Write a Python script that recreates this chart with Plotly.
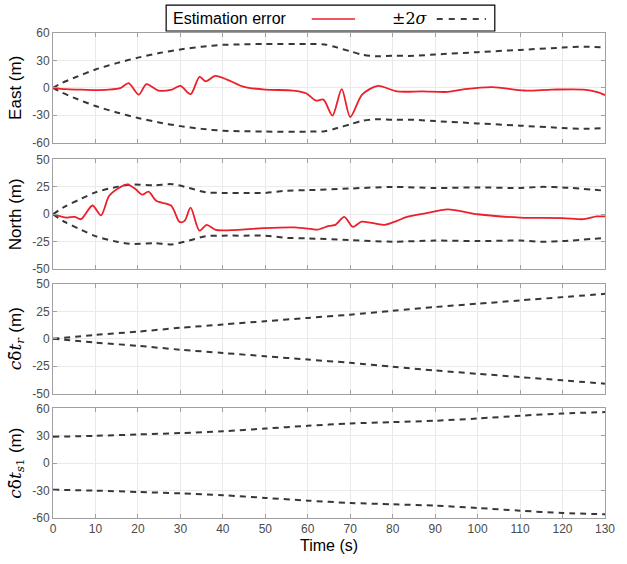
import plotly.graph_objects as go

# ---------------- data ----------------
# East position error (m)
t_east = [0, 3, 6, 10, 13, 16, 17.8, 20.2, 22, 24.8, 28, 30, 32.4, 34.5, 36, 38.2, 41, 45,
          50, 56.5, 59.6, 61.9, 63.7, 65.8, 68, 70, 72.8, 76.5, 81, 87, 93, 97, 103.5,
          111, 117.5, 125, 128.4, 130]
east_err = [0, -1.5, -2, -2.5, -2, 0, 5, -7.5, 4, -3, -2, 2, -7, 12, 7, 13, 9, 1,
            -2, -3, -6, -14, -13, -30.5, -1.5, -32, -7.5, 2, -4, -4, -4.5, -1.5, 0.7,
            -3, -2, -2, -5, -8]
# East 2-sigma bound (m)
t_east_sig = [0, 2, 5, 10, 15, 20, 25, 30, 35, 40, 45, 50, 60, 64, 67, 70, 73, 76, 80,
              85, 90, 100, 110, 120, 125, 130]
east_sig = [0, 5, 11, 20, 27, 33, 38, 42, 45, 47, 47.6, 48, 48, 47.5, 44, 40, 36, 34.5, 35,
            35, 36.5, 39, 41.5, 44, 45, 44]

# North position error (m)
t_north = [0, 3.2, 5.1, 6.6, 9.3, 11.3, 13.2, 15.5, 17.5, 19.4, 21, 22.5, 24.4, 27.8, 29.8,
           31, 32.4, 34.5, 36.2, 38.3, 42, 49.5, 57, 61, 62.3, 65, 66.5, 68.6, 70.6, 72.7,
           78, 81, 83.4, 87.4, 93, 100, 110, 120, 125, 128, 130]
north_err = [0, -3, -2.4, -4.5, 8, -1, 16.7, 24, 27.3, 23, 18, 20.6, 12, 8, -7,
             -6, 6, -15, -9.7, -14.3, -14.5, -12.7, -12, -13.6, -14, -10.6, -9.7, -2.4, -11.5, -6.7,
             -9.7, -6, -2.4, 0.6, 4.5, 0, -3, -3.5, -4.5, -2, -2]
# North 2-sigma bound (m)
t_north_sig = [0, 3, 6, 10, 15, 18, 24, 28, 32, 36, 40, 45, 50, 55, 60, 70, 80, 90, 100,
               110, 115, 120, 130]
north_sig = [0, 7.5, 13, 20, 25, 27, 26.5, 27.5, 24, 20, 19.5, 19.5, 19.5, 21.5, 22, 23.5,
             25, 24, 24.5, 24, 25, 24.5, 21.5]

# Receiver clock bias 2-sigma bound (m)
t_clk = [0, 10, 20, 30, 40, 50, 60, 70, 80, 90, 100, 110, 120, 130]
clk_r_sig = [0, 3.5, 6.5, 10, 13, 16, 19, 22, 25.5, 29, 32, 35, 38, 41]
# Satellite 1 clock bias 2-sigma bound (m)
clk_s1_sig = [29, 30, 31.5, 33, 35, 38, 41, 43.5, 45, 46.5, 49, 52, 54.5, 56]

# axis labels / ticks
y_titles = ["East (m)", "North (m)",
            "<i>c</i>δ\u0303<i>t</i><sub><i>r</i></sub> <span style='font-family:Liberation Sans'>(m)</span>",
            "<i>c</i>δ\u0303<i>t</i><sub><i>s</i>1</sub> <span style='font-family:Liberation Sans'>(m)</span>"]
y_title_fonts = ["Liberation Sans, Arial", "Liberation Sans, Arial",
                 "DejaVu Serif, Liberation Serif", "DejaVu Serif, Liberation Serif"]
y_ticks = [[-60, -30, 0, 30, 60], [-50, -25, 0, 25, 50],
           [-50, -25, 0, 25, 50], [-60, -30, 0, 30, 60]]
x_ticks = list(range(0, 131, 10))

# ---------------- styling ----------------
RED = "rgb(235,32,42)"
DASH_COL = "rgb(55,55,55)"
GRID = "rgb(234,234,234)"
AXIS = "rgb(160,160,160)"
TICKFONT = dict(family="Liberation Sans, Arial", size=12, color="rgb(75,75,75)")

domains = [[0.7741, 1.0], [0.5133, 0.7392], [0.2567, 0.4825], [0.0, 0.2259]]

fig = go.Figure()


def axis_ids(row):
    return ("x", "y") if row == 1 else (f"x{row}", f"y{row}")


def add_err(row, t, v):
    xa, ya = axis_ids(row)
    fig.add_trace(go.Scatter(x=t, y=v, mode="lines",
                             line=dict(color=RED, width=1.8, shape="spline", smoothing=0.8),
                             xaxis=xa, yaxis=ya, showlegend=False, name="Estimation error"))


def add_bound(row, t, s):
    xa, ya = axis_ids(row)
    for sign in (1, -1):
        fig.add_trace(go.Scatter(x=t, y=[sign * v for v in s], mode="lines",
                                 line=dict(color=DASH_COL, width=2, dash="6px,5px",
                                           shape="spline", smoothing=0.8),
                                 xaxis=xa, yaxis=ya, showlegend=False, name="±2σ"))


add_bound(1, t_east_sig, east_sig)
add_err(1, t_east, east_err)
add_bound(2, t_north_sig, north_sig)
add_err(2, t_north, north_err)
add_bound(3, t_clk, clk_r_sig)
add_bound(4, t_clk, clk_s1_sig)

layout = dict(
    width=627, height=564,
    margin=dict(l=53, r=13, t=33, b=44),
    paper_bgcolor="white", plot_bgcolor="white",
    showlegend=False,
)

for i in range(4):
    k = "" if i == 0 else str(i + 1)
    yt = y_ticks[i]
    layout[f"yaxis{k}"] = dict(
        domain=domains[i], range=[yt[0], yt[-1]], anchor=f"x{k}",
        tickvals=yt, ticktext=[str(v) for v in yt], tickfont=TICKFONT,
        showgrid=True, gridcolor=GRID, gridwidth=1, zeroline=False,
        showline=True, linecolor=AXIS, linewidth=1, mirror="ticks",
        ticks="inside", ticklen=4, tickcolor=AXIS,
        title=dict(text=y_titles[i], standoff=6,
                   font=dict(family=y_title_fonts[i], size=17, color="black")),
    )
    layout[f"xaxis{k}"] = dict(
        domain=[0, 1], range=[0, 130], anchor=f"y{k}",
        tickvals=x_ticks, ticktext=[str(v) for v in x_ticks], tickfont=TICKFONT,
        showticklabels=(i == 3),
        showgrid=True, gridcolor=GRID, gridwidth=1, zeroline=False,
        showline=True, linecolor=AXIS, linewidth=1, mirror="ticks",
        ticks="inside", ticklen=4, tickcolor=AXIS,
        matches="x" if i > 0 else None,
    )
layout["xaxis4"]["title"] = dict(text="Time (s)", standoff=4,
                                 font=dict(family="Liberation Sans, Arial", size=16, color="black"))

fig.update_layout(**layout)


# legend box above the first panel: each label followed by its line sample
def px_x(px):
    return (px - 53) / 561.0


def px_y(py):
    return (520 - py) / 487.0


fig.add_shape(type="rect", xref="paper", yref="paper",
              x0=px_x(168), x1=px_x(502), y0=px_y(31), y1=px_y(5),
              line=dict(color="black", width=1.2), fillcolor="white", layer="above")
fig.add_annotation(xref="paper", yref="paper", x=px_x(173), y=px_y(18), text="Estimation error",
                   showarrow=False, xanchor="left", yanchor="middle",
                   font=dict(family="Liberation Sans, Arial", size=16, color="black"))
fig.add_shape(type="line", xref="paper", yref="paper",
              x0=px_x(316), x1=px_x(360), y0=px_y(19), y1=px_y(19),
              line=dict(color=RED, width=1.5))
fig.add_annotation(xref="paper", yref="paper", x=px_x(395), y=px_y(18), text="±2<i>σ</i>",
                   showarrow=False, xanchor="left", yanchor="middle",
                   font=dict(family="DejaVu Serif, Liberation Serif", size=16, color="black"))
fig.add_shape(type="line", xref="paper", yref="paper",
              x0=px_x(443), x1=px_x(493), y0=px_y(19), y1=px_y(19),
              line=dict(color="black", width=1.5, dash="6px,6px"))

fig.write_html("out.html")
